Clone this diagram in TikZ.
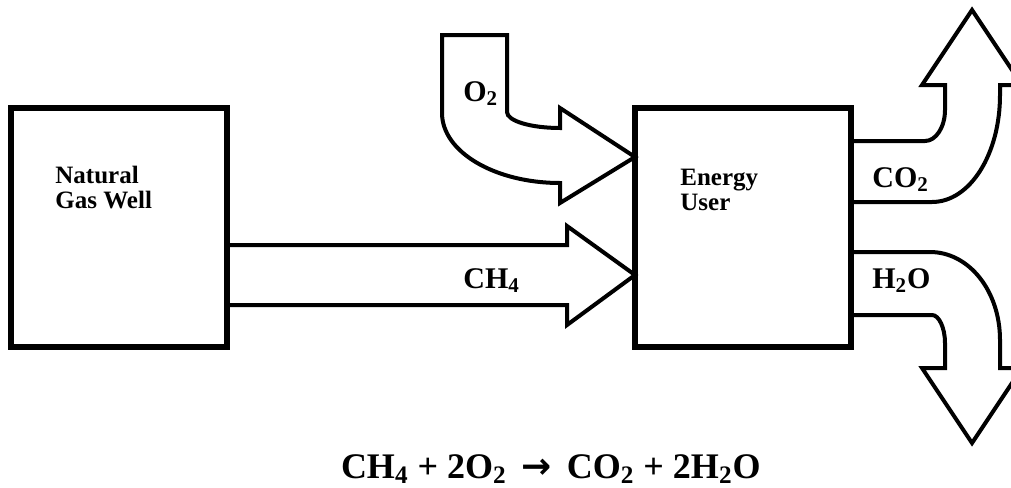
\documentclass[tikz,border=0pt]{standalone}
\usepackage{fontspec}
\setmainfont{Liberation Serif}
\newfontfamily\arrowfont{DejaVu Sans}
\usetikzlibrary{positioning, calc}

\begin{document}
\begin{tikzpicture}[x=0.5pt, y=-0.5pt,
	plant/.style={draw, line width=2.7pt, minimum width=108pt, minimum height=119.5pt, inner sep=0pt, outer sep=0pt},
	plantname/.style={font=\fontsize{12.5}{12.5}\selectfont\bfseries, align=left, inner sep=0pt, anchor=base west},
	flow/.style={line width=2pt, line join=miter},
	flowname/.style={font=\fontsize{15}{15}\selectfont\bfseries, inner sep=0pt, anchor=base west}]
	\useasboundingbox (0,0) rectangle (1011,487);
	% the two plants
	\node[plant] (well) at (119,227.5) {};
	\node[plant, right=204pt of well] (user) {};
	\node[plantname] (welltext) at (55,208) {Natural\\Gas Well};
	\node[plantname] (usertext) at (680,210) {Energy\\User};
	% methane in
	\draw[flow] (well.east |- 0,245) -- (567,245) -- (567,226) -- (user.west |- 0,275)
		-- (567,325) -- (567,305) -- (well.east |- 0,305);
	\node[flowname] (ch4) at (463,288) {CH\textsubscript{4}};
	% oxygen in
	\draw[flow] (442,35) -- (507,35) -- (507,112) .. controls (507,121) and (531,128) .. (560,128)
		-- (560,108) -- (user.west |- 0,157) -- (560,203) -- (560,183)
		.. controls (495,183) and (442,152) .. (442,113) -- cycle;
	\node[flowname] (o2) at (463,101) {O\textsubscript{2}};
	% carbon dioxide out
	\draw[flow] (user.east |- 0,141) -- (925,141) .. controls (936,141) and (945,127) .. (945,110)
		-- (945,85) -- (922,85) -- (972,10) -- (1022,85) -- (1000,85) -- (1000,95)
		.. controls (1000,154) and (970,202) .. (932,202) -- (user.east |- 0,202);
	\node[flowname] (co2) at (872,187) {CO\textsubscript{2}};
	% water out
	\draw[flow] (user.east |- 0,252) -- (930,252) .. controls (969,252) and (1000,291) .. (1000,340)
		-- (1000,368) -- (1022,368) -- (972,443) -- (922,368) -- (945,368) -- (945,343)
		.. controls (945,328) and (939,315) .. (932,315) -- (user.east |- 0,315);
	\node[flowname] (h2o) at (872,288) {H\textsubscript{2}O};
	% reaction
	\node[font=\fontsize{18}{18}\selectfont\bfseries, inner sep=0pt, anchor=base east] (eqn) at (761,478)
		{CH\textsubscript{4} + 2O\textsubscript{2}\, {\arrowfont →}\, CO\textsubscript{2} + 2H\textsubscript{2}O};
\end{tikzpicture}
\end{document}
